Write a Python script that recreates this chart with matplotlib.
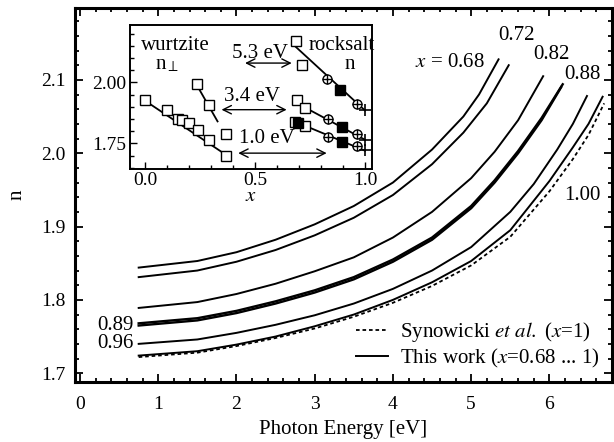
import matplotlib
matplotlib.use("Agg")
import matplotlib.pyplot as plt
from matplotlib.ticker import MultipleLocator

plt.rcParams['font.family'] = ['Liberation Serif', 'DejaVu Serif']
plt.rcParams['mathtext.fontset'] = 'stix'
plt.rcParams['font.size'] = 15

# main panel: refractive index vs photon energy
E_068 = [0.75, 1.5, 2.0, 2.5, 3.0, 3.5, 4.0, 4.5, 4.9, 5.1, 5.35]
n_068 = [1.844, 1.853, 1.865, 1.882, 1.903, 1.928, 1.960, 2.005, 2.050, 2.080, 2.128]
E_072 = [0.75, 1.5, 2.0, 2.5, 3.0, 3.5, 4.0, 4.5, 4.9, 5.2, 5.48]
n_072 = [1.831, 1.840, 1.852, 1.868, 1.888, 1.912, 1.943, 1.985, 2.028, 2.068, 2.120]
E_082 = [0.75, 1.5, 2.0, 2.5, 3.0, 3.5, 4.0, 4.5, 5.0, 5.3, 5.6, 5.92]
n_082 = [1.789, 1.797, 1.808, 1.822, 1.839, 1.858, 1.885, 1.920, 1.966, 2.002, 2.045, 2.105]
E_088 = [0.75, 1.5, 2.0, 2.5, 3.0, 3.5, 4.0, 4.5, 5.0, 5.3, 5.6, 5.9, 6.17]
n_088 = [1.768, 1.775, 1.785, 1.798, 1.813, 1.831, 1.855, 1.885, 1.928, 1.963, 2.003, 2.048, 2.094]
E_089 = [0.75, 1.5, 2.0, 2.5, 3.0, 3.5, 4.0, 4.5, 5.0, 5.3, 5.6, 5.9, 6.15]
n_089 = [1.765, 1.772, 1.782, 1.795, 1.810, 1.828, 1.852, 1.882, 1.925, 1.960, 2.000, 2.045, 2.090]
E_096 = [0.75, 1.5, 2.0, 2.5, 3.0, 3.5, 4.0, 4.5, 5.0, 5.5, 5.8, 6.1, 6.3, 6.48]
n_096 = [1.740, 1.746, 1.755, 1.766, 1.779, 1.795, 1.815, 1.840, 1.872, 1.920, 1.958, 2.005, 2.040, 2.078]
E_100 = [0.75, 1.5, 2.0, 2.5, 3.0, 3.5, 4.0, 4.5, 5.0, 5.5, 6.0, 6.3, 6.5, 6.68]
n_100 = [1.724, 1.730, 1.739, 1.750, 1.764, 1.780, 1.800, 1.824, 1.853, 1.895, 1.962, 2.008, 2.040, 2.077]
E_syn = [0.75, 1.5, 2.0, 2.5, 3.0, 3.5, 4.0, 4.5, 5.0, 5.5, 6.0, 6.3, 6.5, 6.7]
n_syn = [1.722, 1.728, 1.737, 1.748, 1.761, 1.777, 1.796, 1.819, 1.847, 1.886, 1.948, 1.992, 2.025, 2.068]

# inset: n vs composition x at three photon energies
wz_x = [0.0, 0.10, 0.15, 0.17, 0.20, 0.24, 0.29, 0.37]
wz_n = [1.929, 1.885, 1.851, 1.844, 1.833, 1.803, 1.762, 1.700]
wz_fit_x = [0.0, 0.37]
wz_fit_n = [1.925, 1.702]
wz2_x = [0.235, 0.29, 0.37]
wz2_n = [1.995, 1.906, 1.787]
wz2_fit_x = [0.235, 0.33]
wz2_fit_n = [1.990, 1.840]

rs_sq_x = [0.685, 0.712, 0.69, 0.727, 0.68, 0.727]
rs_sq_n = [2.170, 2.070, 1.926, 1.896, 1.837, 1.820]
rs_op_x = [0.826, 0.962, 0.833, 0.962, 0.833, 0.962]
rs_op_n = [2.015, 1.913, 1.848, 1.790, 1.775, 1.738]
rs_fill_x = [0.886, 0.894, 0.696, 0.894]
rs_fill_n = [1.967, 1.817, 1.833, 1.757]
rs_plus_x = [1.0, 1.0, 1.0]
rs_plus_n = [1.888, 1.765, 1.721]
rs53_fit_x = [0.68, 1.0]
rs53_fit_n = [2.150, 1.885]
rs34_fit_x = [0.68, 1.0]
rs34_fit_n = [1.920, 1.765]
rs10_fit_x = [0.68, 1.0]
rs10_fit_n = [1.840, 1.720]

fig = plt.figure(figsize=(6.14, 4.42), dpi=100)
ax = fig.add_axes([75/614, 1-382/442, 537/614, 374/442])

lw = 1.4
for E, n in [(E_068, n_068), (E_072, n_072), (E_082, n_082), (E_096, n_096)]:
    ax.plot(E, n, color='black', lw=lw)
ax.plot(E_088, n_088, color='black', lw=1.7)
ax.plot(E_089, n_089, color='black', lw=1.7)
ax.plot(E_100, n_100, color='black', lw=lw, label='This work ($x$=0.68 ... 1)')
ax.plot(E_syn, n_syn, color='black', lw=1.3, ls=(0, (2, 1.6)),
        label='Synowicki $et\\ al.$ ($x$=1)')

ax.text(5.17, 2.124, '$x$ = 0.68', ha='right', va='center')
ax.text(5.58, 2.160, '0.72', ha='center', va='center')
ax.text(6.03, 2.134, '0.82', ha='center', va='center')
ax.text(6.42, 2.107, '0.88', ha='center', va='center')
ax.text(6.42, 1.943, '1.00', ha='center', va='center')
ax.text(0.68, 1.765, '0.89', ha='right', va='center')
ax.text(0.68, 1.740, '0.96', ha='right', va='center')

h, l = ax.get_legend_handles_labels()
ax.legend(h[::-1], l[::-1], loc='lower right', bbox_to_anchor=(1.012, -0.018),
          frameon=False, handlelength=1.5, handletextpad=0.6, labelspacing=0.15)

ax.set_xlim(-0.064, 6.8)
ax.set_ylim(1.688, 2.198)
ax.xaxis.set_major_locator(MultipleLocator(1))
ax.xaxis.set_minor_locator(MultipleLocator(0.2))
ax.yaxis.set_major_locator(MultipleLocator(0.1))
ax.yaxis.set_minor_locator(MultipleLocator(0.02))
ax.tick_params(which='both', direction='in', top=True, right=True, width=1.3,
               labelsize=14)
ax.tick_params(which='major', length=6)
ax.tick_params(which='minor', length=3)
ax.tick_params(axis='x', pad=10)
ax.tick_params(axis='y', pad=7)
for s in ax.spines.values():
    s.set_linewidth(2.2)
ax.set_xlabel('Photon Energy [eV]', labelpad=5)
ax.set_ylabel('n', labelpad=10)

# inset
ins = fig.add_axes([130/614, 1-169/442, 242/614, 144/442])
ins.set_facecolor('white')
ms = 6.5
ins.plot(wz_fit_x, wz_fit_n, color='black', lw=1.3)
ins.plot(wz2_fit_x, wz2_fit_n, color='black', lw=1.3)
for fx, fn in [(rs53_fit_x, rs53_fit_n), (rs34_fit_x, rs34_fit_n), (rs10_fit_x, rs10_fit_n)]:
    ins.plot(fx, fn, color='black', lw=1.3)
ins.plot(wz_x, wz_n, 's', mfc='white', mec='black', ms=ms, mew=1.0)
ins.plot(wz2_x, wz2_n, 's', mfc='white', mec='black', ms=ms, mew=1.0)
ins.plot(rs_sq_x, rs_sq_n, 's', mfc='white', mec='black', ms=ms, mew=1.0)
ins.plot(rs_op_x, rs_op_n, 'o', mfc='white', mec='black', ms=ms, mew=1.0)
ins.plot(rs_op_x, rs_op_n, '+', color='black', ms=ms, mew=1.0)
ins.plot(rs_fill_x, rs_fill_n, 's', color='black', ms=ms)
ins.plot(rs_plus_x, rs_plus_n, '+', color='black', ms=ms + 2, mew=1.2)

arrow = dict(arrowstyle='<->', color='black', lw=1.0, shrinkA=0, shrinkB=0)
ins.annotate('', xy=(0.455, 2.079), xytext=(0.667, 2.079), arrowprops=arrow)
ins.annotate('', xy=(0.348, 1.888), xytext=(0.644, 1.888), arrowprops=arrow)
ins.annotate('', xy=(0.424, 1.710), xytext=(0.826, 1.710), arrowprops=arrow)
ins.text(0.523, 2.119, '5.3 eV', ha='center', va='center')
ins.text(0.485, 1.940, '3.4 eV', ha='center', va='center')
ins.text(0.553, 1.769, '1.0 eV', ha='center', va='center')
ins.text(0.137, 2.152, 'wurtzite', ha='center', va='center')
ins.text(0.10, 2.072, 'n$_{\\perp}$', ha='center', va='center')
ins.text(0.895, 2.152, 'rocksalt', ha='center', va='center')
ins.text(0.93, 2.072, 'n', ha='center', va='center')

ins.set_xlim(-0.068, 1.032)
ins.set_ylim(1.645, 2.235)
ins.set_xticks([0.0, 0.5, 1.0])
ins.set_xticklabels(['0.0', '0.5', '1.0'])
ins.set_yticks([1.75, 2.00])
ins.set_yticklabels(['1.75', '2.00'])
ins.xaxis.set_minor_locator(MultipleLocator(0.1))
ins.yaxis.set_minor_locator(MultipleLocator(0.05))
ins.tick_params(which='both', direction='in', width=1.0, labelsize=14)
ins.tick_params(which='major', length=5)
ins.tick_params(which='minor', length=3)
ins.tick_params(axis='x', pad=2)
ins.tick_params(axis='y', pad=3)
for s in ins.spines.values():
    s.set_linewidth(1.4)
ins.set_xlabel('$x$', labelpad=-1)

fig.savefig('out.png', dpi=100)
